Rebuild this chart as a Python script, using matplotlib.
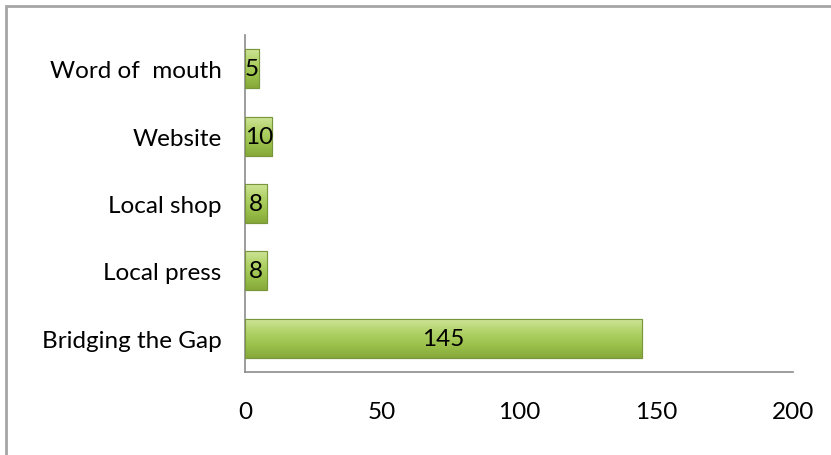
import matplotlib.pyplot as plt
from matplotlib.patches import Rectangle
import numpy as np

plt.rcParams['font.family'] = ['Lato', 'DejaVu Sans']

# data (bottom to top)
categories = ['Bridging the Gap', 'Local press', 'Local shop', 'Website', 'Word of  mouth']
values = [145, 8, 8, 10, 5]
xticks = [0, 50, 100, 150, 200]

fig = plt.figure(figsize=(8.31, 4.56), dpi=100)
ax = fig.add_axes([245/831, 1 - 373/456, (793 - 245)/831, (373 - 36)/456])

y = np.arange(len(categories))
bars = ax.barh(y, values, height=0.58, color='#9bbb59', edgecolor='#7f9b3f', linewidth=0.8, zorder=2)

# vertical gradient + bevel look inside each bar
grad = np.linspace(0, 1, 64).reshape(-1, 1)
cmap = plt.matplotlib.colors.LinearSegmentedColormap.from_list(
    'g', ['#86a83a', '#9cc24c', '#b2d36a', '#cfe59a'])
for b in bars:
    x0, y0, w, h = b.get_x(), b.get_y(), b.get_width(), b.get_height()
    im = ax.imshow(grad, extent=[x0, x0 + w, y0, y0 + h], origin='lower', cmap=cmap,
                   aspect='auto', zorder=2.5, interpolation='bilinear')
    im.set_clip_path(b)
    ax.add_patch(Rectangle((x0, y0), w, h, fill=False, edgecolor='#7a963a', linewidth=0.8, zorder=3))

for b, v in zip(bars, values):
    ax.text(b.get_x() + b.get_width() / 2, b.get_y() + b.get_height() / 2, str(v),
            ha='center', va='center', fontsize=17.5, color='black', zorder=4)

ax.set_xlim(0, 200)
ax.set_ylim(-0.5, len(categories) - 0.5)
ax.set_xticks(xticks)
ax.set_yticks(y)
ax.set_yticklabels(categories)
ax.tick_params(length=0, labelsize=17.5, colors='black')
ax.tick_params(axis='x', pad=21)
ax.tick_params(axis='y', pad=17)
for s in ['top', 'right']:
    ax.spines[s].set_visible(False)
for s in ['left', 'bottom']:
    ax.spines[s].set_color('#8c8c8c')
    ax.spines[s].set_linewidth(1.2)

# outer chart border
fig.patches.append(Rectangle((6/831, -0.1), 1.1, 1 - 7/456 + 0.1, transform=fig.transFigure,
                             fill=False, edgecolor='#a6a6a6', linewidth=2))

fig.savefig('out.png', dpi=100)
